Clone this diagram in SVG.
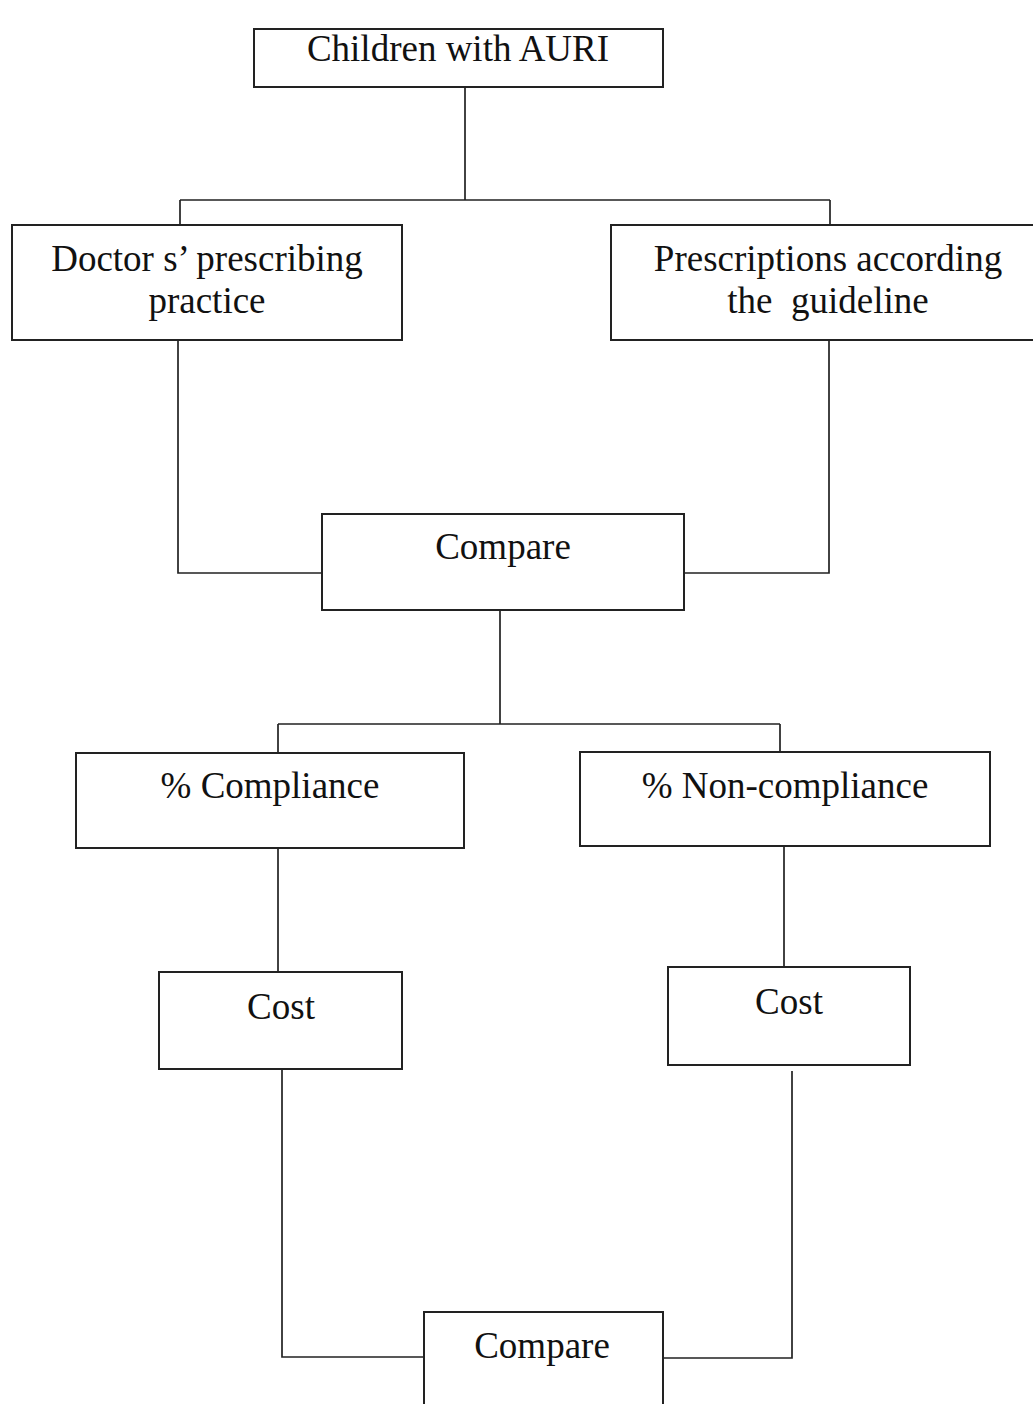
<svg xmlns="http://www.w3.org/2000/svg" width="1033" height="1404" viewBox="0 0 1033 1404">
<style>
.box{fill:#fff;stroke:#222;stroke-width:2}
.lbl{font-family:"Liberation Serif","Times New Roman",serif;font-size:37px;fill:#111;text-anchor:middle}
.conn{fill:none;stroke:#222;stroke-width:1.7}
</style>
<rect width="1033" height="1404" fill="#fff"/>
<g id="connectors">
<path class="conn" d="M465 87V200M180 200H830M180 200V225M830 200V225"/>
<path class="conn" d="M178 340V573H322M829 340V573H684"/>
<path class="conn" d="M500 610V724M278 724H780M278 724V753M780 724V752"/>
<path class="conn" d="M278 848V972M784 846V967"/>
<path class="conn" d="M282 1069V1357H424M792 1071V1358H660"/>
</g>
<g id="n1"><rect class="box" x="254" y="29" width="409" height="58"/><text class="lbl" x="458" y="61">Children with AURI</text></g>
<g id="n2"><rect class="box" x="12" y="225" width="390" height="115"/><text class="lbl" x="207" y="271">Doctor s’ prescribing</text><text class="lbl" x="207" y="313">practice</text></g>
<g id="n3"><rect class="box" x="611" y="225" width="430" height="115"/><text class="lbl" x="828" y="271">Prescriptions according</text><text class="lbl" x="828" y="313">the&#160; guideline</text></g>
<g id="n4"><rect class="box" x="322" y="514" width="362" height="96"/><text class="lbl" x="503" y="559">Compare</text></g>
<g id="n5"><rect class="box" x="76" y="753" width="388" height="95"/><text class="lbl" x="270" y="798">% Compliance</text></g>
<g id="n6"><rect class="box" x="580" y="752" width="410" height="94"/><text class="lbl" x="785" y="798">% Non-compliance</text></g>
<g id="n7"><rect class="box" x="159" y="972" width="243" height="97"/><text class="lbl" x="281" y="1019">Cost</text></g>
<g id="n8"><rect class="box" x="668" y="967" width="242" height="98"/><text class="lbl" x="789" y="1014">Cost</text></g>
<g id="n9"><rect class="box" x="424" y="1312" width="239" height="110"/><text class="lbl" x="542" y="1358">Compare</text></g>
</svg>
